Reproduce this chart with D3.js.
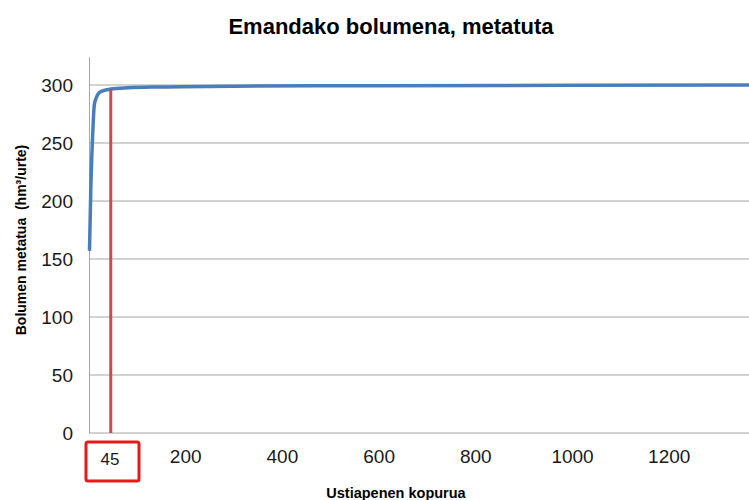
<!DOCTYPE html>
<html><head><meta charset="utf-8">
<script src="https://cdn.jsdelivr.net/npm/d3@7/dist/d3.min.js"></script>
<style>body{margin:0;background:#fff}svg{display:block}</style>
</head><body><svg id="c" width="749" height="500"></svg>
<script>
const title = "Emandako bolumena, metatuta";
const xLabel = "Ustiapenen kopurua";
const yLabel = "Bolumen metatua  (hm³/urte)";
const exploitations = [1, 4, 8, 11, 15, 23, 45, 80, 147, 300, 600, 1000, 1400];
const volumes = [157, 215, 261, 283, 289, 294, 296.5, 297.6, 298.3, 299, 299.4, 299.8, 300];
const xTicks = [200, 400, 600, 800, 1000, 1200];
const yTicks = [0, 50, 100, 150, 200, 250, 300];
const markerX = 45;

const svg = d3.select("#c");
const left = 89, bottom = 433;
const x = d3.scaleLinear().domain([0, 1365]).range([left, 749]);
const y = d3.scaleLinear().domain([0, 300]).range([bottom, 85]);
const font = "Liberation Sans, Arial, sans-serif";

// gridlines
svg.append("g").selectAll("line").data(yTicks).join("line")
  .attr("x1", left).attr("x2", 749)
  .attr("y1", d => y(d)).attr("y2", d => y(d))
  .attr("stroke", "#a6a6a6").attr("stroke-width", 1);
// y axis line
svg.append("line").attr("x1", left + 0.5).attr("x2", left + 0.5)
  .attr("y1", y(0)).attr("y2", y(324)).attr("stroke", "#a6a6a6");

// y tick labels
svg.append("g").selectAll("text").data(yTicks).join("text")
  .attr("x", 73).attr("y", d => y(d) + 7)
  .attr("text-anchor", "end").attr("font-family", font).attr("font-size", 19)
  .attr("fill", "#1a1a1a").text(d => d);

// x tick labels
svg.append("g").selectAll("text").data(xTicks).join("text")
  .attr("x", d => x(d)).attr("y", 463)
  .attr("text-anchor", "middle").attr("font-family", font).attr("font-size", 19)
  .attr("fill", "#1a1a1a").text(d => d);

// marker label with box
svg.append("rect").attr("x", 86).attr("y", 442).attr("width", 53).attr("height", 39)
  .attr("rx", 2).attr("fill", "none").attr("stroke", "#e31b1b").attr("stroke-width", 3);
svg.append("text").attr("x", 110).attr("y", 465).attr("text-anchor", "middle")
  .attr("font-family", font).attr("font-size", 17).attr("fill", "#1a1a1a").text(markerX);

// curve
const line = d3.line().x((d, i) => x(exploitations[i])).y(d => y(d)).curve(d3.curveMonotoneX);
svg.append("path").datum(volumes).attr("d", line)
  .attr("fill", "none").attr("stroke", "#4a7ebb").attr("stroke-width", 3.5);

// red marker line
svg.append("line").attr("x1", x(markerX)).attr("x2", x(markerX))
  .attr("y1", y(0)).attr("y2", y(296.5))
  .attr("stroke", "#c0504d").attr("stroke-width", 3);

// title
svg.append("text").attr("x", 391).attr("y", 34).attr("text-anchor", "middle")
  .attr("font-family", font).attr("font-size", 22).attr("font-weight", "bold")
  .attr("fill", "#000").text(title);

// axis titles
svg.append("text").attr("x", 396).attr("y", 498).attr("text-anchor", "middle")
  .attr("font-family", font).attr("font-size", 14.5).attr("font-weight", "bold")
  .attr("fill", "#000").text(xLabel);
svg.append("text").attr("transform", "translate(26,240) rotate(-90)")
  .attr("text-anchor", "middle").attr("font-family", font).attr("font-size", 14)
  .attr("font-weight", "bold").attr("fill", "#000")
  .style("white-space", "pre").text(yLabel);
</script></body></html>
